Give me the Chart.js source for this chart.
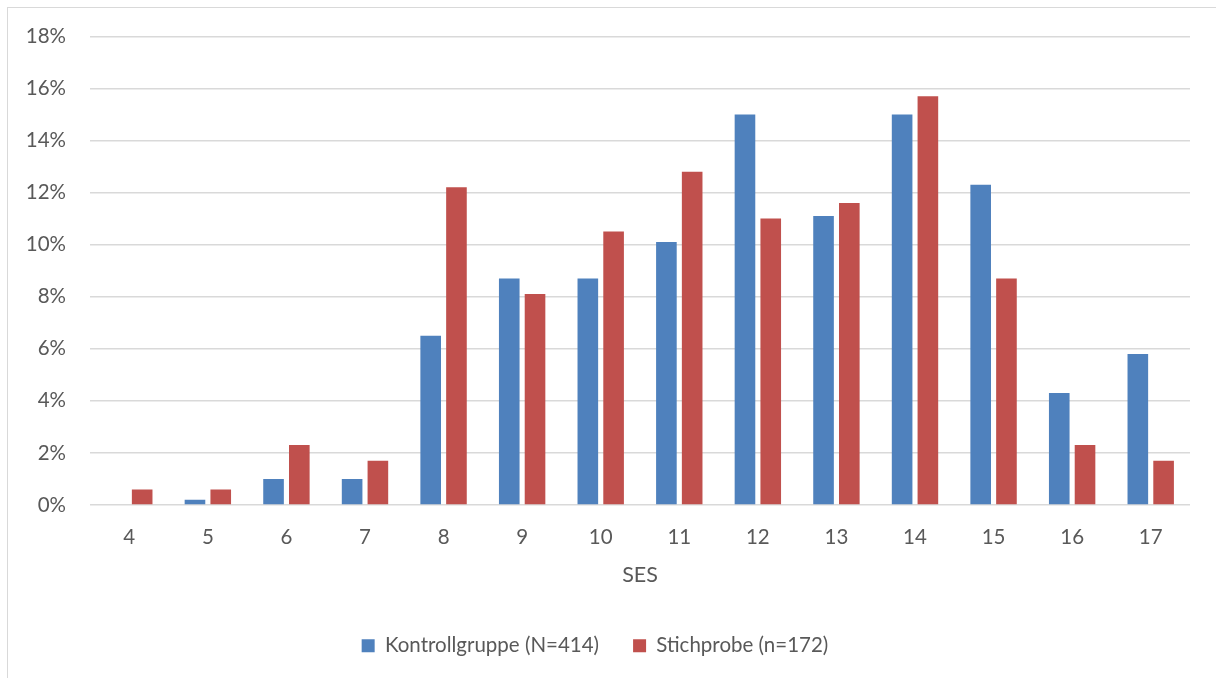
<!DOCTYPE html>
<html lang="de">
<head>
<meta charset="utf-8">
<title>SES – Kontrollgruppe und Stichprobe</title>
<script src="https://cdn.jsdelivr.net/npm/chart.js@4/dist/chart.umd.min.js"></script>
<style>
  html, body { margin: 0; padding: 0; background: #ffffff; overflow: hidden; }
  #frame {
    position: absolute; left: 7px; top: 7px; width: 1400px; height: 900px;
    border: 1px solid #d9d9d9; box-sizing: border-box;
  }
  #wrap { position: absolute; left: 0; top: 0; width: 1216px; height: 678px; }
</style>
</head>
<body>
<div id="frame"></div>
<div id="wrap"><canvas id="chart" width="1216" height="678"></canvas></div>
<script>
// SES categories (x axis)
const sesLevels = ['4', '5', '6', '7', '8', '9', '10', '11', '12', '13', '14', '15', '16', '17'];

// Share of each group per SES level, in percent
const kontrollgruppe = [0, 0.2, 1.0, 1.0, 6.5, 8.7, 8.7, 10.1, 15.0, 11.1, 15.0, 12.3, 4.3, 5.8];
const stichprobe     = [0.6, 0.6, 2.3, 1.7, 12.2, 8.1, 10.5, 12.8, 11.0, 11.6, 15.7, 8.7, 2.3, 1.7];

// Series names and y-axis tick settings
const seriesNames = ['Kontrollgruppe (N=414)', 'Stichprobe (n=172)'];
const axisTitle = 'SES';
const yMin = 0, yMax = 18, yStep = 2;

const textColor = '#595959';
const fontFamily = 'Lato, "Liberation Sans", Arial, sans-serif';

new Chart(document.getElementById('chart'), {
  type: 'bar',
  data: {
    labels: sesLevels,
    datasets: [
      { label: seriesNames[0], data: kontrollgruppe, backgroundColor: '#4f81bd' },
      { label: seriesNames[1], data: stichprobe, backgroundColor: '#c0504d' }
    ]
  },
  options: {
    responsive: false,
    devicePixelRatio: 1,
    animation: false,
    categoryPercentage: 0.656,
    barPercentage: 0.8,
    layout: { padding: { top: 36, right: 26, left: 0, bottom: 12 } },
    plugins: {
      tooltip: { enabled: false },
      legend: {
        position: 'bottom',
        labels: {
          boxWidth: 13,
          boxHeight: 13,
          padding: 34,
          color: textColor,
          font: { family: fontFamily, size: 20.5 }
        }
      }
    },
    scales: {
      x: {
        grid: { display: false, drawTicks: false },
        border: { display: false },
        ticks: { color: textColor, padding: 20, font: { family: fontFamily, size: 20.5 } },
        title: {
          display: true,
          text: axisTitle,
          color: textColor,
          font: { family: fontFamily, size: 21.5 },
          padding: { top: 10, bottom: 13.5 }
        },
        afterFit: (scale) => { scale.height = 96.5; }
      },
      y: {
        min: yMin,
        max: yMax,
        grid: { color: '#d9d9d9', lineWidth: 1.5, drawTicks: false },
        border: { display: false },
        ticks: {
          stepSize: yStep,
          padding: 24,
          color: textColor,
          font: { family: fontFamily, size: 20.5 },
          callback: (v) => v + '%'
        },
        afterFit: (scale) => { scale.width = 90; }
      }
    }
  }
});
</script>
</body>
</html>
